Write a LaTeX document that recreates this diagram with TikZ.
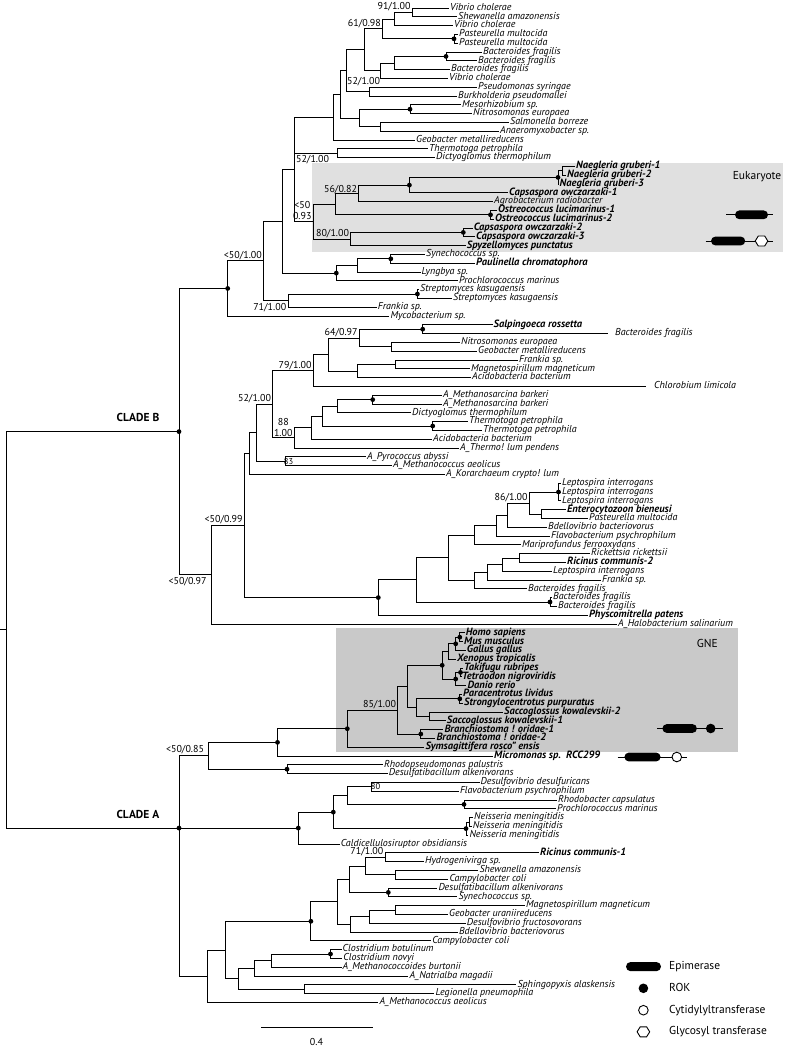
\documentclass[tikz,border=0pt]{standalone}
\usepackage{fontspec}
\setmainfont{PT Sans}
\newcommand\brn[2]{\foreach \c in {#2}{\draw[br] (#1) |- (\c);}}
\begin{document}
\begin{tikzpicture}[x=1pt,y=-1pt,
 declare function={ly(\k)=8+(\k-1)*8.8;},
 br/.style={line width=0.9pt,black},
 lf/.style={anchor=west,inner sep=0pt,inner xsep=1pt,text height=6.5pt,text depth=2pt,font=\fontsize{10}{10}\selectfont\itshape},
 bf/.style={lf,text height=6.7pt,text depth=1.9pt,font=\fontsize{10.5}{10.5}\selectfont\bfseries\itshape},
 supp/.style={inner sep=0.8pt,font=\fontsize{10}{11}\selectfont,align=center},
 clade/.style={inner sep=0pt,font=\fontsize{11.5}{12}\selectfont\bfseries},
 lgd/.style={anchor=west,inner sep=0pt,text height=8pt,text depth=2.2pt,font=\fontsize{11.5}{12}\selectfont},
]
\useasboundingbox (0,0) rectangle (791,1050);
% shaded boxes
\fill[black!12] (312,162.5) rectangle (783,251.5);
\fill[black!21] (336.2,628.3) rectangle (737.6,751.8);
\node[lgd,anchor=east] (euklab) at (781.5,177) {Eukaryote};
\node[lgd,anchor=center] (gnelab) at (707.3,644.5) {GNE};

% ---------------- leaves ----------------
\node[lf] (L1) at (449,{ly(1)}) {Vibrio cholerae};
\node[lf] (L2) at (457,{ly(2)}) {Shewanella amazonensis};
\node[lf] (L3) at (453,{ly(3)}) {Vibrio cholerae};
\node[lf] (L4) at (458,{ly(4)}) {Pasteurella multocida};
\node[lf] (L5) at (458,{ly(5)}) {Pasteurella multocida};
\node[lf] (L6) at (482,{ly(6)}) {Bacteroides fragilis};
\node[lf] (L7) at (477,{ly(7)}) {Bacteroides fragilis};
\node[lf] (L8) at (450,{ly(8)}) {Bacteroides fragilis};
\node[lf] (L9) at (448,{ly(9)}) {Vibrio cholerae};
\node[lf] (L10) at (477,{ly(10)}) {Pseudomonas syringae};
\node[lf] (L11) at (457,{ly(11)}) {Burkholderia pseudomallei};
\node[lf] (L12) at (461,{ly(12)}) {Mesorhizobium sp.};
\node[lf] (L13) at (472,{ly(13)}) {Nitrosomonas europaea};
\node[lf] (L14) at (509,{ly(14)}) {Salmonella borreze};
\node[lf] (L15) at (499,{ly(15)}) {Anaeromyxobacter sp.};
\node[lf] (L16) at (415,{ly(16)}) {Geobacter metallireducens};
\node[lf] (L17) at (428,{ly(17)}) {Thermotoga petrophila};
\node[lf] (L18) at (435,{ly(18)}) {Dictyoglomus thermophilum};
\node[bf] (L19) at (575,{ly(19)}) {Naegleria gruberi-1};
\node[bf] (L20) at (566,{ly(20)}) {Naegleria gruberi-2};
\node[bf] (L21) at (558.5,{ly(21)}) {Naegleria gruberi-3};
\node[bf] (L22) at (508,{ly(22)}) {Capsaspora owczarzaki-1};
\node[lf] (L23) at (493,{ly(23)}) {Agrobacterium radiobacter};
\node[bf] (L24) at (497,{ly(24)}) {Ostreococcus lucimarinus-1};
\node[bf] (L25) at (494,{ly(25)}) {Ostreococcus lucimarinus-2};
\node[bf] (L26) at (472.6,{ly(26)}) {Capsaspora owczarzaki-2};
\node[bf] (L27) at (475,{ly(27)}) {Capsaspora owczarzaki-3};
\node[bf] (L28) at (465.7,{ly(28)}) {Spyzellomyces punctatus};
\node[lf] (L29) at (425,{ly(29)}) {Synechococcus sp.};
\node[bf] (L30) at (475,{ly(30)}) {Paulinella chromatophora};
\node[lf] (L31) at (420.5,{ly(31)}) {Lyngbya sp.};
\node[lf] (L32) at (457.8,{ly(32)}) {Prochlorococcus marinus};
\node[lf] (L33) at (419,{ly(33)}) {Streptomyces kasugaensis};
\node[lf] (L34) at (452,{ly(34)}) {Streptomyces kasugaensis};
\node[lf] (L35) at (376.7,{ly(35)}) {Frankia sp.};
\node[lf] (L36) at (389.4,{ly(36)}) {Mycobacterium sp.};
\node[bf] (L37) at (492.5,{ly(37)}) {Salpingoeca rossetta};
\node[lf,inner xsep=7pt] (L38) at (608,{ly(38)}) {Bacteroides fragilis};
\node[lf] (L39) at (460,{ly(39)}) {Nitrosomonas europaea};
\node[lf] (L40) at (477,{ly(40)}) {Geobacter metallireducens};
\node[lf] (L41) at (518,{ly(41)}) {Frankia sp.};
\node[lf] (L42) at (470,{ly(42)}) {Magnetospirillum magneticum};
\node[lf] (L43) at (471,{ly(43)}) {Acidobacteria bacterium};
\node[lf,inner xsep=8pt] (L44) at (646,{ly(44)}) {Chlorobium limicola};
\node[lf] (L45) at (442,{ly(45)}) {A\_Methanosarcina barkeri};
\node[lf] (L46) at (442,{ly(46)}) {A\_Methanosarcina barkeri};
\node[lf] (L47) at (411,{ly(47)}) {Dictyoglomus thermophilum};
\node[lf] (L48) at (468,{ly(48)}) {Thermotoga petrophila};
\node[lf] (L49) at (482,{ly(49)}) {Thermotoga petrophila};
\node[lf] (L50) at (432,{ly(50)}) {Acidobacteria bacterium};
\node[lf] (L51) at (459,{ly(51)}) {A\_Thermo! lum pendens};
\node[lf] (L52) at (366,{ly(52)}) {A\_Pyrococcus abyssi};
\node[lf] (L53) at (392,{ly(53)}) {A\_Methanococcus aeolicus};
\node[lf] (L54) at (445,{ly(54)}) {A\_Korarchaeum crypto! lum};
\node[lf] (L55) at (561,{ly(55)}) {Leptospira interrogans};
\node[lf] (L56) at (561,{ly(56)}) {Leptospira interrogans};
\node[lf] (L57) at (561,{ly(57)}) {Leptospira interrogans};
\node[bf] (L58) at (566,{ly(58)}) {Enterocytozoon bieneusi};
\node[lf] (L59) at (588,{ly(59)}) {Pasteurella multocida};
\node[lf] (L60) at (547,{ly(60)}) {Bdellovibrio bacteriovorus};
\node[lf] (L61) at (550,{ly(61)}) {Flavobacterium psychrophilum};
\node[lf] (L62) at (521,{ly(62)}) {Mariprofundus ferrooxydans};
\node[lf] (L63) at (590,{ly(63)}) {Rickettsia rickettsii};
\node[bf] (L64) at (566,{ly(64)}) {Ricinus communis-2};
\node[lf] (L65) at (552,{ly(65)}) {Leptospira interrogans};
\node[lf] (L66) at (601,{ly(66)}) {Frankia sp.};
\node[lf] (L67) at (527,{ly(67)}) {Bacteroides fragilis};
\node[lf] (L68) at (552,{ly(68)}) {Bacteroides fragilis};
\node[lf] (L69) at (557,{ly(69)}) {Bacteroides fragilis};
\node[bf] (L70) at (588,{ly(70)}) {Physcomitrella patens};
\node[lf] (L71) at (617,{ly(71)}) {A\_Halobacterium salinarium};
\node[bf] (L72) at (464.7,{ly(72)}) {Homo sapiens};
\node[bf] (L73) at (463,{ly(73)}) {Mus musculus};
\node[bf] (L74) at (465.7,{ly(74)}) {Gallus gallus};
\node[bf] (L75) at (456,{ly(75)}) {Xenopus tropicalis};
\node[bf] (L76) at (463,{ly(76)}) {Takifugu rubripes};
\node[bf] (L77) at (461,{ly(77)}) {Tetraodon nigroviridis};
\node[bf] (L78) at (466.4,{ly(78)}) {Danio rerio};
\node[bf] (L79) at (462,{ly(79)}) {Paracentrotus lividus};
\node[bf] (L80) at (463,{ly(80)}) {Strongylocentrotus purpuratus};
\node[bf] (L81) at (503,{ly(81)}) {Saccoglossus kowalevskii-2};
\node[bf] (L82) at (445.7,{ly(82)}) {Saccoglossus kowalevskii-1};
\node[bf] (L83) at (443.3,{ly(83)}) {Branchiostoma ! oridae-1};
\node[bf] (L84) at (435.3,{ly(84)}) {Branchiostoma ! oridae-2};
\node[bf] (L85) at (424.3,{ly(85)}) {Symsagittifera rosco" ensis};
\node[bf] (L86) at (493,{ly(86)}) {Micromonas sp.\ \ RCC299};
\node[lf] (L87) at (383,{ly(87)}) {Rhodopseudomonas palustris};
\node[lf] (L88) at (387.7,{ly(88)}) {Desulfatibacillum alkenivorans};
\node[lf] (L89) at (479.5,{ly(89)}) {Desulfovibrio desulfuricans};
\node[lf] (L90) at (458.8,{ly(90)}) {Flavobacterium psychrophilum};
\node[lf] (L91) at (557,{ly(91)}) {Rhodobacter capsulatus};
\node[lf] (L92) at (556,{ly(92)}) {Prochlorococcus marinus};
\node[lf] (L93) at (473,{ly(93)}) {Neisseria meningitidis};
\node[lf] (L94) at (471.7,{ly(94)}) {Neisseria meningitidis};
\node[lf] (L95) at (468.3,{ly(95)}) {Neisseria meningitidis};
\node[lf] (L96) at (339.7,{ly(96)}) {Caldicellulosiruptor obsidiansis};
\node[bf] (L97) at (539,{ly(97)}) {Ricinus communis-1};
\node[lf] (L98) at (424,{ly(98)}) {Hydrogenivirga sp.};
\node[lf] (L99) at (478.3,{ly(99)}) {Shewanella amazonensis};
\node[lf] (L100) at (448.3,{ly(100)}) {Campylobacter coli};
\node[lf] (L101) at (437.3,{ly(101)}) {Desulfatibacillum alkenivorans};
\node[lf] (L102) at (457.3,{ly(102)}) {Synechococcus sp.};
\node[lf] (L103) at (525,{ly(103)}) {Magnetospirillum magneticum};
\node[lf] (L104) at (448,{ly(104)}) {Geobacter uraniireducens};
\node[lf] (L105) at (465.7,{ly(105)}) {Desulfovibrio fructosovorans};
\node[lf] (L106) at (457.8,{ly(106)}) {Bdellovibrio bacteriovorus};
\node[lf] (L107) at (431.2,{ly(107)}) {Campylobacter coli};
\node[lf] (L108) at (341.5,{ly(108)}) {Clostridium botulinum};
\node[lf] (L109) at (342.2,{ly(109)}) {Clostridium novyi};
\node[lf] (L110) at (341.5,{ly(110)}) {A\_Methanococcoides burtonii};
\node[lf] (L111) at (408.4,{ly(111)}) {A\_Natrialba magadii};
\node[lf] (L112) at (516.4,{ly(112)}) {Sphingopyxis alaskensis};
\node[lf] (L113) at (434.3,{ly(113)}) {Legionella pneumophila};
\node[lf] (L114) at (378.4,{ly(114)}) {A\_Methanococcus aeolicus};

% ---------------- internal nodes ----------------
\coordinate (a1) at (412.3,{ly(1.5)});
\coordinate (a2) at (394.3,{ly(2.25)});
\coordinate (a3) at (454,{ly(4.5)});
\coordinate (a4) at (382.7,{ly(3.375)});
\coordinate (a5) at (446,{ly(6.5)});
\coordinate (a6) at (394.3,{ly(7.25)});
\coordinate (a7) at (380,{ly(8.125)});
\coordinate (a8) at (364.3,{ly(5.75)});
\coordinate (a9) at (369,{ly(10.5)});
\coordinate (a10) at (346,{ly(8.125)});
\coordinate (a11) at (410,{ly(12.5)});
\coordinate (a12) at (380.7,{ly(14.5)});
\coordinate (a13) at (359.3,{ly(13.5)});
\coordinate (a14) at (340.7,{ly(10.8125)});
\coordinate (a15) at (333.3,{ly(13.40625)});
\coordinate (a16) at (337.7,{ly(17.5)});
\coordinate (n1) at (562.3,{ly(19.5)});
\coordinate (n2) at (558,{ly(20.25)});
\coordinate (n3) at (409.4,{ly(21.125)});
\coordinate (n4) at (358.7,{ly(22.0625)});
\coordinate (n5) at (490.5,{ly(24.5)});
\coordinate (n6) at (335.6,{ly(23.28125)});
\coordinate (n7) at (463.3,{ly(26.5)});
\coordinate (n8) at (350.8,{ly(27.25)});
\coordinate (euk) at (313.1,{ly(25.265625)});
\coordinate (a17) at (294.5,{ly(19.3359)});
\coordinate (c3) at (390.8,{ly(29.5)});
\coordinate (c2) at (357,{ly(30.25)});
\coordinate (c1) at (336.3,{ly(31.125)});
\coordinate (b2) at (282.8,{ly(25.2305)});
\coordinate (b5) at (417.4,{ly(33.5)});
\coordinate (b4) at (288,{ly(34.25)});
\coordinate (b3) at (263.5,{ly(29.7402)});
\coordinate (B1) at (227.7,{ly(32.8701)});
\coordinate (s1) at (422.7,{ly(37.5)});
\coordinate (s2) at (391.7,{ly(39.5)});
\coordinate (s3) at (359.3,{ly(38.5)});
\coordinate (s4) at (395.7,{ly(41.5)});
\coordinate (s5) at (357.3,{ly(42.25)});
\coordinate (s6) at (328.3,{ly(40.375)});
\coordinate (s7) at (313.3,{ly(42.1875)});
\coordinate (t1) at (372.7,{ly(45.5)});
\coordinate (t2) at (337.7,{ly(46.25)});
\coordinate (t3) at (432.7,{ly(48.5)});
\coordinate (t4) at (322.7,{ly(47.375)});
\coordinate (t5) at (311,{ly(48.6875)});
\coordinate (t6) at (294.3,{ly(49.84375)});
\coordinate (s8) at (272.7,{ly(46.015625)});
\coordinate (t7) at (285,{ly(52.5)});
\coordinate (s9) at (256.7,{ly(49.2578)});
\coordinate (s10) at (249.3,{ly(51.6289)});
\coordinate (l1) at (558.5,{ly(56)});
\coordinate (l2) at (541.7,{ly(58.5)});
\coordinate (l3) at (529.3,{ly(57.25)});
\coordinate (l4) at (507.3,{ly(58.625)});
\coordinate (l5) at (496.7,{ly(59.8125)});
\coordinate (l6) at (474,{ly(60.90625)});
\coordinate (l7) at (519.3,{ly(63.5)});
\coordinate (l8) at (502.7,{ly(64.25)});
\coordinate (l9) at (487.3,{ly(65.125)});
\coordinate (l10) at (474,{ly(66.0625)});
\coordinate (l11) at (448.3,{ly(63.484375)});
\coordinate (l12) at (550,{ly(68.5)});
\coordinate (l13) at (416.7,{ly(65.9922)});
\coordinate (l14) at (378.3,{ly(67.9961)});
\coordinate (s11) at (244.3,{ly(59.8125)});
\coordinate (s12) at (211.7,{ly(65.40625)});
\coordinate (B0) at (179,{ly(49.138)});
\coordinate (g1) at (459.8,{ly(72.5)});
\coordinate (g2) at (455.7,{ly(73.25)});
\coordinate (g3) at (448.4,{ly(74.125)});
\coordinate (g4) at (460.5,{ly(76.5)});
\coordinate (g5) at (455.7,{ly(77.25)});
\coordinate (g6) at (442.2,{ly(75.6875)});
\coordinate (g7) at (459.8,{ly(79.5)});
\coordinate (g8) at (429.4,{ly(81.5)});
\coordinate (g9) at (416.7,{ly(80.5)});
\coordinate (g10) at (407.7,{ly(78.09375)});
\coordinate (g11) at (420.8,{ly(83.5)});
\coordinate (g12) at (397.7,{ly(80.796875)});
\coordinate (g13) at (347.3,{ly(82.8984)});
\coordinate (ca1a) at (277.5,{ly(84.4492)});
\coordinate (ca1b) at (287,{ly(87.5)});
\coordinate (ca1) at (208.5,{ly(85.9746)});
\coordinate (m1) at (371.5,{ly(89.5)});
\coordinate (m2) at (464,{ly(91.5)});
\coordinate (m3) at (347,{ly(90.5)});
\coordinate (m4a) at (469.5,{ly(93.5)});
\coordinate (m4) at (466,{ly(94.25)});
\coordinate (m5) at (333.3,{ly(92.375)});
\coordinate (ca2) at (298.3,{ly(94.1875)});
\coordinate (r1) at (385,{ly(97.5)});
\coordinate (r2) at (395.7,{ly(99.5)});
\coordinate (r3) at (365.7,{ly(98.5)});
\coordinate (r4) at (388.3,{ly(101.5)});
\coordinate (r5) at (349,{ly(100)});
\coordinate (r6) at (395.7,{ly(103.5)});
\coordinate (r7) at (369,{ly(104.25)});
\coordinate (r8) at (350,{ly(105.125)});
\coordinate (r9) at (337.3,{ly(102.5625)});
\coordinate (upA) at (310.9,{ly(104.78125)});
\coordinate (cl1) at (330.5,{ly(108.5)});
\coordinate (cl2) at (271.7,{ly(109.25)});
\coordinate (cl3) at (254.3,{ly(110.125)});
\coordinate (sp1) at (304,{ly(112.5)});
\coordinate (cl4) at (238.7,{ly(111.3125)});
\coordinate (u0) at (225.3,{ly(108.046875)});
\coordinate (ca3) at (207.3,{ly(111.0234)});
\coordinate (CA) at (179,{ly(94.1875)});
\coordinate (root) at (6.7,{ly(71.663)});
\coordinate (stub) at (0,{ly(71.663)});

% ---------------- branches ----------------
\draw[br] (stub) -- (root);
\brn{root}{B0,CA}
\brn{B0}{B1,s12}
\brn{B1}{b3,L36.west}
\brn{b3}{b2,b4}
\brn{b2}{a17,c1}
\brn{a17}{a15,a16,euk}
\brn{a15}{a14,L16.west}
\brn{a14}{a10,a13}
\brn{a10}{a8,a9}
\brn{a8}{a4,a7}
\brn{a4}{a2,a3}
\brn{a2}{a1,L3.west}
\brn{a1}{L1.west,L2.west}
\brn{a3}{L4.west,L5.west}
\brn{a7}{a6,L9.west}
\brn{a6}{a5,L8.west}
\brn{a5}{L6.west,L7.west}
\brn{a9}{L10.west,L11.west}
\brn{a13}{a11,a12}
\brn{a11}{L12.west,L13.west}
\brn{a12}{L14.west,L15.west}
\brn{a16}{L17.west,L18.west}
\brn{euk}{n6,n8}
\brn{n6}{n4,n5}
\brn{n4}{n3,L23.west}
\brn{n3}{n2,L22.west}
\brn{n2}{n1,L21.west}
\brn{n1}{L19.west,L20.west}
\brn{n5}{L24.west,L25.west}
\brn{n8}{n7,L28.west}
\brn{n7}{L26.west,L27.west}
\brn{c1}{c2,L32.west}
\brn{c2}{c3,L31.west}
\brn{c3}{L29.west,L30.west}
\brn{b4}{b5,L35.west}
\brn{b5}{L33.west,L34.west}
\brn{s12}{s11,L71.west}
\brn{s11}{s10,l14}
\brn{s10}{s9,L54.west}
\brn{s9}{s8,t7}
\brn{s8}{s7,t6}
\brn{s7}{s6,L44.west}
\brn{s6}{s3,s5}
\brn{s3}{s1,s2}
\brn{s1}{L37.west,L38.west}
\brn{s2}{L39.west,L40.west}
\brn{s5}{s4,L43.west}
\brn{s4}{L41.west,L42.west}
\brn{t6}{t5,L51.west}
\brn{t5}{t4,L50.west}
\brn{t4}{t2,t3}
\brn{t2}{t1,L47.west}
\brn{t1}{L45.west,L46.west}
\brn{t3}{L48.west,L49.west}
\brn{t7}{L52.west,L53.west}
\brn{l14}{l13,L70.west}
\brn{l13}{l11,l12}
\brn{l12}{L68.west,L69.west}
\brn{l11}{l6,l10}
\brn{l6}{l5,L62.west}
\brn{l5}{l4,L61.west}
\brn{l4}{l3,L60.west}
\brn{l3}{l1,l2}
\brn{l1}{L55.west,L56.west,L57.west}
\brn{l2}{L58.west,L59.west}
\brn{l10}{l9,L67.west}
\brn{l9}{l8,L66.west}
\brn{l8}{l7,L65.west}
\brn{l7}{L63.west,L64.west}
\brn{CA}{ca1,ca2,ca3}
\brn{ca1}{ca1a,ca1b}
\brn{ca1a}{g13,L86.west}
\brn{g13}{g12,L85.west}
\brn{g12}{g10,g11}
\brn{g11}{L83.west,L84.west}
\brn{g10}{g6,g9}
\brn{g6}{g3,g5}
\brn{g3}{g2,L75.west}
\brn{g2}{g1,L74.west}
\brn{g1}{L72.west,L73.west}
\brn{g5}{g4,L78.west}
\brn{g4}{L76.west,L77.west}
\brn{g9}{g7,g8}
\brn{g7}{L79.west,L80.west}
\brn{g8}{L81.west,L82.west}
\brn{ca1b}{L87.west,L88.west}
\brn{ca2}{m5,L96.west}
\brn{m5}{m3,m4}
\brn{m3}{m1,m2}
\brn{m1}{L89.west,L90.west}
\brn{m2}{L91.west,L92.west}
\brn{m4}{m4a,L95.west}
\brn{m4a}{L93.west,L94.west}
\brn{ca3}{u0,L114.west}
\brn{u0}{upA,cl4}
\brn{upA}{r9,L107.west}
\brn{r9}{r5,r8}
\brn{r5}{r3,r4}
\brn{r3}{r1,r2}
\brn{r1}{L97.west,L98.west}
\brn{r2}{L99.west,L100.west}
\brn{r4}{L101.west,L102.west}
\brn{r8}{r7,L106.west}
\brn{r7}{r6,L105.west}
\brn{r6}{L103.west,L104.west}
\brn{cl4}{cl3,sp1}
\brn{cl3}{cl2,L111.west}
\brn{cl2}{cl1,L110.west}
\brn{cl1}{L108.west,L109.west}
\brn{sp1}{L112.west,L113.west}

% ---------------- node dots ----------------
\foreach \d in {a3,a5,a11,n2,n3,n5,n7,c3,c1,b5,B1,B0,s1,t1,t3,l1,l12,l14,g1,g2,g4,g5,g6,g7,g11,g13,ca1a,ca1b,m2,m4,m5,ca2,r4,upA,cl1,CA}
  \fill (\d) circle (2.4pt);

% ---------------- support values ----------------
\node[supp,anchor=south east] (v1) at (411.5,12.2) {91/1.00};
\node[supp,anchor=south east] (v2) at (381.8,28.5) {61/0.98};
\node[supp,anchor=south east] (v3) at (381,87) {52/1.00};
\node[supp,anchor=north east] (v4) at (330,154.6) {52/1.00};
\node[supp,anchor=south east] (v5) at (358,194.5) {56/0.82};
\node[supp,anchor=south east] (v6) at (312.5,221) {{<}50\\0.93};
\node[supp,anchor=south east] (v7) at (350,238.6) {80/1.00};
\node[supp,anchor=south east] (v8) at (262.8,261.3) {{<}50/1.00};
\node[supp,anchor=north east] (v9) at (287.2,302) {71/1.00};
\node[supp,anchor=south east] (v10) at (358.6,338) {64/0.97};
\node[supp,anchor=south east] (v11) at (312.6,370.8) {79/1.00};
\node[supp,anchor=south east] (v12) at (272,403.7) {52/1.00};
\node[supp,anchor=south east] (v13) at (293.5,437.4) {88\\1.00};
\node[supp,font=\fontsize{8.5}{9}\selectfont,inner sep=0pt] (v14) at (288.5,{ly(52.5)}) {83};
\node[supp,anchor=south east] (v15) at (243.6,525.1) {{<}50/0.99};
\node[supp,anchor=north east] (v16) at (207.5,576.6) {{<}50/0.97};
\node[supp,anchor=south east] (v17) at (528.6,503.3) {86/1.00};
\node[supp,anchor=south east] (v18) at (397,709.6) {85/1.00};
\node[supp,anchor=south east] (v19) at (205,755.2) {{<}50/0.85};
\node[supp,font=\fontsize{8.5}{9}\selectfont,inner sep=0pt] (v20) at (375.5,{ly(89.5)}) {80};
\node[supp,anchor=south east] (v21) at (384.3,857.1) {71/1.00};

% clade labels
\node[clade,anchor=base east] (cladeB) at (159.5,421) {CLADE B};
\node[clade,anchor=base east] (cladeA) at (159.5,818.3) {CLADE A};

% ---------------- domain architectures ----------------
\draw[br] (726,214.8) -- (773,214.8);
\fill[rounded corners=4.4pt] (735,210.4) rectangle (768,219.2);
\draw[br] (705.5,241) -- (773,241);
\fill[rounded corners=4.4pt] (711,236.6) rectangle (745.2,245.4);
\draw[br,fill=white,shift={(761.5,241)}] (-6.3,0) -- (-3.2,-5) -- (3.2,-5) -- (6.3,0) -- (3.2,5) -- (-3.2,5) -- cycle;
\draw[br] (657.2,728.5) -- (722.7,728.5);
\fill[rounded corners=4.4pt] (662.4,724.1) rectangle (696.9,732.9);
\fill (710.7,728.5) circle (4.8pt);
\draw[br] (617.5,757) -- (686.5,757);
\fill[rounded corners=4.4pt] (624.4,752.6) rectangle (660.6,761.4);
\draw[br,fill=white] (676.8,757) circle (4.8pt);

% ---------------- legend ----------------
\fill[rounded corners=4.6pt] (626,962) rectangle (661,971.2);
\node[lgd] (lg1) at (669,966.6) {Epimerase};
\fill (643.4,988.3) circle (4.8pt);
\node[lgd] (lg2) at (669,988.3) {ROK};
\draw[br,fill=white] (643.4,1010.2) circle (4.8pt);
\node[lgd] (lg3) at (669,1010.2) {Cytidylyltransferase};
\draw[br,fill=white,shift={(643.4,1031.8)}] (-6.3,0) -- (-3.2,-5) -- (3.2,-5) -- (6.3,0) -- (3.2,5) -- (-3.2,5) -- cycle;
\node[lgd] (lg4) at (669,1031.8) {Glycosyl transferase};

% scale bar
\coordinate (sb1) at (261,1027);
\coordinate (sb2) at (372.5,1027);
\draw[br] (sb1) -- (sb2);
\node[supp] (sblab) at (316.5,1042) {0.4};
\end{tikzpicture}
\end{document}
